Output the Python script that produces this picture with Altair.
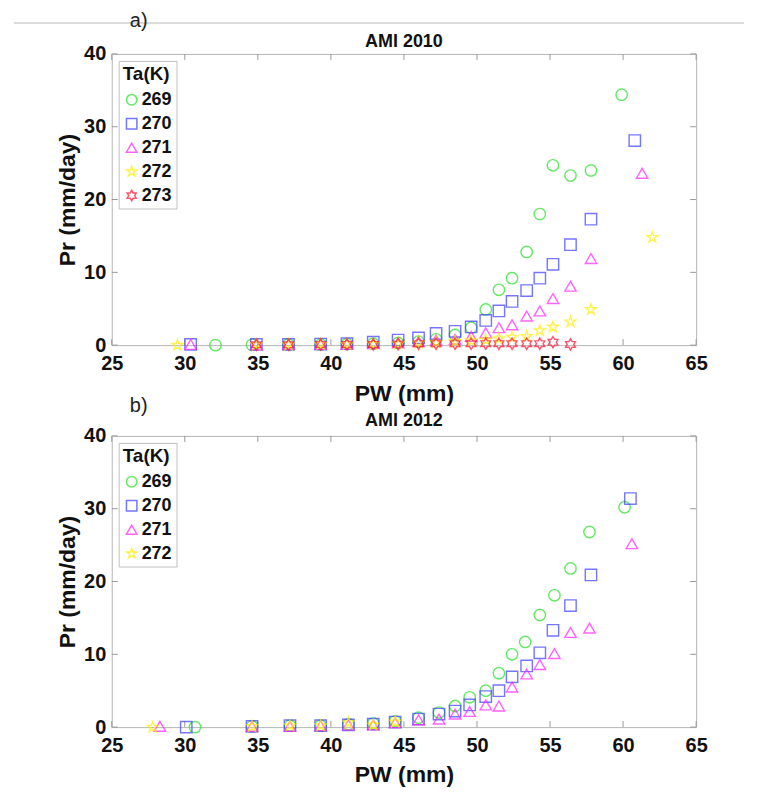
import altair as alt

# ---------------- data ----------------
ta_labels = ["269", "270", "271", "272", "273"]

# AMI 2010
pw_269_a = [32.1, 34.6, 37.1, 39.3, 41.1, 42.9, 44.6, 46.0, 47.2, 48.5, 49.6, 50.6, 51.5, 52.4, 53.4, 54.3, 55.2, 56.4, 57.8, 59.9]
pr_269_a = [0.0, 0.05, 0.1, 0.1, 0.15, 0.2, 0.3, 0.5, 0.8, 1.4, 2.4, 4.9, 7.6, 9.2, 12.8, 18.0, 24.7, 23.3, 24.0, 34.4]
pw_270_a = [30.4, 34.9, 37.1, 39.3, 41.1, 42.9, 44.6, 46.0, 47.2, 48.5, 49.6, 50.6, 51.5, 52.4, 53.4, 54.3, 55.2, 56.4, 57.8, 60.8]
pr_270_a = [0.1, 0.1, 0.1, 0.15, 0.2, 0.4, 0.7, 1.0, 1.6, 1.9, 2.5, 3.4, 4.7, 6.0, 7.5, 9.2, 11.1, 13.8, 17.3, 28.1]
pw_271_a = [30.4, 34.9, 37.1, 39.3, 41.1, 42.9, 44.6, 46.0, 47.2, 48.5, 49.6, 50.6, 51.5, 52.4, 53.4, 54.3, 55.2, 56.4, 57.8, 61.3]
pr_271_a = [0.1, 0.05, 0.1, 0.1, 0.15, 0.2, 0.3, 0.5, 0.7, 0.8, 1.2, 1.7, 2.4, 2.8, 4.0, 4.7, 6.4, 8.1, 11.9, 23.6]
pw_272_a = [29.5, 34.9, 37.1, 39.3, 41.1, 42.9, 44.6, 46.0, 47.2, 48.5, 49.6, 50.6, 51.5, 52.4, 53.4, 54.3, 55.2, 56.4, 57.8, 62.0]
pr_272_a = [0.0, 0.05, 0.05, 0.1, 0.1, 0.15, 0.2, 0.3, 0.4, 0.5, 0.6, 0.7, 0.9, 1.1, 1.2, 2.0, 2.5, 3.2, 4.9, 14.8]
pw_273_a = [34.9, 37.1, 39.3, 41.1, 42.9, 44.6, 46.0, 47.2, 48.5, 49.6, 50.6, 51.5, 52.4, 53.4, 54.3, 55.2, 56.4]
pr_273_a = [0.05, 0.05, 0.1, 0.1, 0.1, 0.15, 0.2, 0.2, 0.2, 0.2, 0.2, 0.2, 0.2, 0.2, 0.2, 0.4, 0.1]

# AMI 2012
pw_269_b = [30.7, 34.6, 37.2, 39.3, 41.2, 42.9, 44.4, 46.0, 47.4, 48.5, 49.5, 50.6, 51.5, 52.4, 53.3, 54.3, 55.3, 56.4, 57.7, 60.1]
pr_269_b = [0.0, 0.1, 0.2, 0.2, 0.4, 0.5, 0.8, 1.3, 2.0, 2.9, 4.1, 5.0, 7.4, 10.0, 11.7, 15.4, 18.1, 21.8, 26.8, 30.2]
pw_270_b = [30.1, 34.6, 37.2, 39.3, 41.2, 42.9, 44.4, 46.0, 47.4, 48.5, 49.5, 50.6, 51.5, 52.4, 53.4, 54.3, 55.2, 56.4, 57.8, 60.5]
pr_270_b = [0.0, 0.1, 0.2, 0.2, 0.3, 0.4, 0.7, 1.1, 1.8, 2.2, 3.05, 4.2, 5.0, 6.9, 8.4, 10.2, 13.3, 16.7, 20.9, 31.4]
pw_271_b = [28.3, 34.6, 37.2, 39.3, 41.2, 42.9, 44.4, 46.0, 47.4, 48.5, 49.5, 50.6, 51.5, 52.4, 53.4, 54.3, 55.3, 56.4, 57.7, 60.6]
pr_271_b = [0.1, 0.1, 0.1, 0.2, 0.3, 0.3, 0.6, 1.0, 1.1, 1.8, 2.15, 3.05, 2.9, 5.5, 7.3, 8.6, 10.1, 13.0, 13.6, 25.2]
pw_272_b = [27.8, 34.6, 37.2, 39.3, 41.2, 42.9, 44.4]
pr_272_b = [0.0, 0.1, 0.2, 0.2, 0.6, 0.3, 0.7]

x_ticks = [25, 30, 35, 40, 45, 50, 55, 60, 65]
y_ticks = [0, 10, 20, 30, 40]

# ---------------- styling ----------------
FONT = "Liberation Sans"
W, H = 586, 292
colors = ["#22e022", "#3c3cff", "#ff22ff", "#ffee00", "#ff1030"]
pentagram = ("M0,-1L0.225,-0.309L0.951,-0.309L0.363,0.118L0.588,0.809L0,0.382"
             "L-0.588,0.809L-0.363,0.118L-0.951,-0.309L-0.225,-0.309Z")
hexagram = ("M0,-1L0.289,-0.5L0.866,-0.5L0.577,0L0.866,0.5L0.289,0.5L0,1"
            "L-0.289,0.5L-0.866,0.5L-0.577,0L-0.866,-0.5L-0.289,-0.5Z")
shapes = ["circle", "square", "triangle-up", pentagram, hexagram]


def make_rows(series):
    rows = []
    for ta, pws, prs in series:
        for p, r in zip(pws, prs):
            rows.append({"PW": p, "Pr": r, "Ta": ta})
    return rows


def panel(rows, labels, title, letter, letter_y, title_y, with_line):
    n = len(labels)
    xs = alt.Scale(domain=[25, 65], nice=False)
    ys = alt.Scale(domain=[0, 40], nice=False)
    xax = alt.Axis(values=x_ticks, ticks=False, domain=False, grid=False,
                   labelFlush=False, labelPadding=8, titlePadding=9,
                   titleFontSize=23)
    yax = alt.Axis(values=y_ticks, ticks=False, domain=False, grid=False,
                   labelFlush=False, labelPadding=6, titlePadding=4,
                   titleFontSize=23)
    xenc = alt.X("PW:Q", scale=xs, title="PW (mm)", axis=xax)
    yenc = alt.Y("Pr:Q", scale=ys, title="Pr (mm/day)", axis=yax)
    pts = alt.Chart(alt.Data(values=rows)).mark_point(filled=False, size=130, strokeWidth=1.4).encode(
        x=xenc, y=yenc,
        color=alt.Color("Ta:N", scale=alt.Scale(domain=labels, range=colors[:n]),
                        legend=alt.Legend(title="Ta(K)", orient="top-left")),
        shape=alt.Shape("Ta:N", scale=alt.Scale(domain=labels, range=shapes[:n]),
                        legend=alt.Legend(title="Ta(K)", orient="top-left")),
    )
    xt = alt.Data(values=[{"PW": v} for v in x_ticks])
    yt = alt.Data(values=[{"Pr": v} for v in y_ticks])
    tick_color = "#9a9a9a"
    xb = alt.Chart(xt).mark_rule(color=tick_color).encode(
        x=xenc, y=alt.value(H), y2=alt.value(H - 6))
    xtop = alt.Chart(xt).mark_rule(color=tick_color).encode(
        x=xenc, y=alt.value(0), y2=alt.value(6))
    yl = alt.Chart(yt).mark_rule(color=tick_color).encode(
        y=yenc, x=alt.value(0), x2=alt.value(6))
    yr = alt.Chart(yt).mark_rule(color=tick_color).encode(
        y=yenc, x=alt.value(W), x2=alt.value(W - 6))
    lab = alt.Chart(alt.Data(values=[{"t": letter}])).mark_text(
        font=FONT, fontSize=20, color="#222", align="center", baseline="middle"
    ).encode(x=alt.value(27), y=alt.value(letter_y), text="t:N")
    ttl = alt.Chart(alt.Data(values=[{"t": title}])).mark_text(
        font=FONT, fontSize=18, fontWeight="bold", color="#111", align="center",
        baseline="middle"
    ).encode(x=alt.value(W / 2), y=alt.value(title_y), text="t:N")
    layers = [xb, xtop, yl, yr, pts, lab, ttl]
    if with_line:
        line = alt.Chart(alt.Data(values=[{"t": 1}])).mark_rule(color="#b8b8b8", strokeWidth=1).encode(
            x=alt.value(-98), x2=alt.value(634), y=alt.value(-31))
        layers.insert(0, line)
    return alt.layer(*layers).properties(width=W, height=H)


rows_a = make_rows([
    ("269", pw_269_a, pr_269_a), ("270", pw_270_a, pr_270_a),
    ("271", pw_271_a, pr_271_a), ("272", pw_272_a, pr_272_a),
    ("273", pw_273_a, pr_273_a),
])
rows_b = make_rows([
    ("269", pw_269_b, pr_269_b), ("270", pw_270_b, pr_270_b),
    ("271", pw_271_b, pr_271_b), ("272", pw_272_b, pr_272_b),
])

top = panel(rows_a, ta_labels, "AMI 2010", "a)", -33, -12, True)
bottom = panel(rows_b, ta_labels[:4], "AMI 2012", "b)", -30, -15, False)

chart = alt.vconcat(top, bottom, spacing=91, bounds="flush").resolve_scale(
    color="independent", shape="independent"
).configure_view(stroke="#b5b5b5", strokeWidth=1).configure_axis(
    labelFont=FONT, labelFontSize=20, labelFontWeight="bold", labelColor="#111",
    titleFont=FONT, titleFontSize=23, titleFontWeight="bold", titleColor="#111",
).configure_legend(
    titleFont=FONT, titleFontSize=19, titleFontWeight="bold", titleColor="#111",
    labelFont=FONT, labelFontSize=18, labelFontWeight="bold", labelColor="#111",
    strokeColor="#c0c0c0", fillColor="white", padding=4, offset=7,
    symbolSize=110, symbolStrokeWidth=1.5, rowPadding=6, titlePadding=7,
    labelOffset=1,
).properties(padding={"left": 5, "top": 1, "right": 5, "bottom": 5})

chart.save("out.html", embed_options={"renderer": "svg", "actions": False})
